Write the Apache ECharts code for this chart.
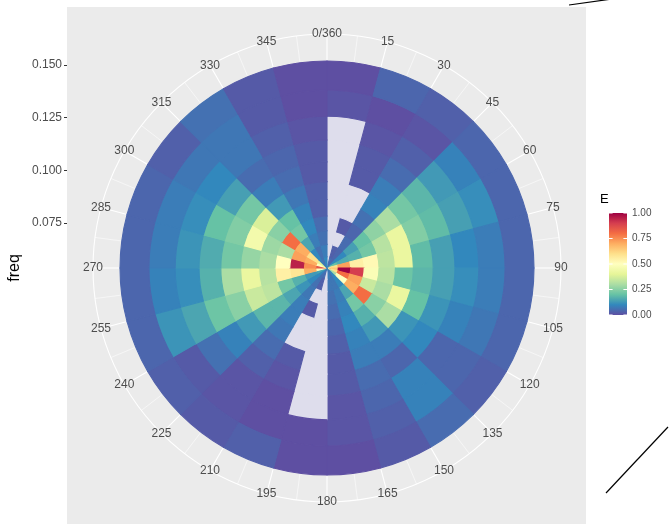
<!DOCTYPE html>
<html><head><meta charset="utf-8">
<script src="https://cdn.jsdelivr.net/npm/echarts@6/dist/echarts.min.js"></script>
<style>html,body{margin:0;padding:0;background:#fff}#c{width:671px;height:524px}</style>
</head><body><div id="c"></div>
<script>
// ---- data ----
const directions = [0,15,30,45,60,75,90,105,120,135,150,165,180,195,210,225,240,255,270,285,300,315,330,345];
const dirWidth = 15;
const freqs = [0.0562,0.0618,0.0680,0.0747,0.0821,0.0903,0.0992,0.1091,0.1199,0.1318,0.1449];
const angleTicks = [0,15,30,45,60,75,90,105,120,135,150,165,180,195,210,225,240,255,270,285,300,315,330,345];
const angleLabels = ['0/360','15','30','45','60','75','90','105','120','135','150','165','180','195','210','225','240','255','270','285','300','315','330','345'];
const freqTicks = [0.075,0.100,0.125,0.150];
const legendBreaks = [0,0.25,0.5,0.75,1];
// E per direction bin (rows) and frequency bin (columns, low -> high); null = no value
const energy = [
  [null,null,null,null,null,null,null,null,null,0.01,0.00],
  [0.05,0.03,null,0.02,null,null,0.02,0.02,0.01,0.00,0.04],
  [0.04,0.04,0.05,0.04,0.06,0.09,0.08,0.05,0.03,0.01,0.03],
  [0.10,0.10,0.14,0.20,0.26,0.30,0.22,0.18,0.13,0.09,0.04],
  [0.20,0.16,0.17,0.22,0.32,0.42,0.24,0.19,0.14,0.11,0.04],
  [0.60,0.72,0.55,0.52,0.33,0.42,0.19,0.14,0.10,0.08,0.04],
  [0.65,1.00,0.90,0.48,0.32,0.21,0.18,0.14,0.11,0.08,0.04],
  [0.60,0.80,0.72,0.35,0.30,0.42,0.20,0.12,0.09,0.07,0.04],
  [0.30,0.50,0.70,0.80,0.25,0.30,0.12,0.10,0.04,0.04,0.03],
  [0.10,0.10,0.15,0.22,0.17,0.13,0.08,0.04,0.09,0.09,0.05],
  [0.06,0.07,0.08,0.09,0.10,0.09,0.08,0.05,0.04,0.03,0.02],
  [0.08,0.07,0.06,0.05,0.04,0.03,0.02,0.02,0.01,0.01,0.00],
  [null,null,null,null,null,null,null,null,null,0.00,0.00],
  [0.05,0.03,null,0.02,null,null,0.02,0.01,0.00,0.00,0.03],
  [0.06,0.06,0.07,0.08,0.08,0.07,0.05,0.03,0.01,0.01,0.02],
  [0.10,0.10,0.12,0.15,0.18,0.18,0.13,0.09,0.06,0.02,0.03],
  [0.15,0.13,0.17,0.22,0.33,0.35,0.25,0.21,0.15,0.12,0.04],
  [0.50,0.70,0.58,0.55,0.32,0.42,0.30,0.17,0.11,0.09,0.04],
  [0.85,0.75,0.95,0.50,0.30,0.27,0.22,0.16,0.12,0.08,0.04],
  [0.50,0.70,0.72,0.30,0.28,0.45,0.24,0.20,0.11,0.08,0.04],
  [0.40,0.60,0.70,0.80,0.25,0.38,0.22,0.14,0.10,0.07,0.03],
  [0.08,0.10,0.15,0.22,0.20,0.13,0.08,0.05,0.07,0.07,0.06],
  [0.06,0.06,0.08,0.10,0.09,0.07,0.05,0.04,0.03,0.02,0.02],
  [0.10,0.08,0.06,0.05,0.03,0.03,0.02,0.02,0.01,0.00,0.00]
];

// ---- styling / layout ----
const PALETTE = ['#5E4FA2','#3288BD','#66C2A5','#ABDDA4','#E6F598','#FFFFBF','#FEE08B','#FDAE61','#F46D43','#D53E4F','#9E0142'];
const NA_COLOR = '#DEDDEC';
const FONT = '"Liberation Sans", Arial, sans-serif';
const CX = 327, CY = 268, DISC_R = 207, OUTER_R = 234;

// tile edges: geometric midpoints between frequency bin centres
const n = freqs.length;
const edges = [freqs[0] / Math.sqrt(freqs[1] / freqs[0])];
for (let i = 0; i < n - 1; i++) edges.push(Math.sqrt(freqs[i] * freqs[i + 1]));
edges.push(freqs[n - 1] * Math.sqrt(freqs[n - 1] / freqs[n - 2]));
const fLo = edges[0], fHi = edges[n];
const rMax = fLo + (fHi - fLo) * OUTER_R / DISC_R;

const tileData = [];
directions.forEach((d, di) => {
  freqs.forEach((f, ri) => {
    const e = energy[di][ri];
    tileData.push([f, d, e === null ? '-' : e, ri, di]);
  });
});

// theta grid lines: major at each labelled angle, minor half-way between
const gridData = [];
angleTicks.forEach(a => { gridData.push([a, 1]); gridData.push([a + dirWidth / 2, 0]); });

const chart = echarts.init(document.getElementById('c'), null, {renderer: 'canvas'});

function tileItem(params, api) {
  const ri = api.value(3), di = api.value(4);
  const cs = params.coordSys;
  const d0 = directions[di], d1 = d0 + dirWidth;
  const pIn = api.coord([edges[ri], d0]);
  const pOut = api.coord([edges[ri + 1], d0]);
  const pEnd = api.coord([edges[ri + 1], d1]);
  const r0 = Math.hypot(pIn[0] - cs.cx, pIn[1] - cs.cy);
  const r = Math.hypot(pOut[0] - cs.cx, pOut[1] - cs.cy);
  let a0 = Math.atan2(pOut[1] - cs.cy, pOut[0] - cs.cx);
  let a1 = Math.atan2(pEnd[1] - cs.cy, pEnd[0] - cs.cx);
  if (a1 <= a0) a1 += 2 * Math.PI;
  const e = api.value(2);
  const fill = (e === '-' || isNaN(e)) ? NA_COLOR : api.visual('color');
  return {
    type: 'sector',
    shape: {cx: cs.cx, cy: cs.cy, r0: r0, r: r, startAngle: a0, endAngle: a1, clockwise: true},
    style: {fill: fill, stroke: fill, lineWidth: 1.1, lineJoin: 'miter'}
  };
}

function gridItem(params, api) {
  const a = api.value(0), major = api.value(1);
  const p0 = api.coord([fHi, a]);
  const p1 = api.coord([rMax, a]);
  return {
    type: 'line',
    shape: {x1: p0[0], y1: p0[1], x2: p1[0], y2: p1[1]},
    style: {stroke: '#fff', lineWidth: major ? 1.1 : 0.55}
  };
}

function labelItem(params, api) {
  const p = api.coord([api.value(0), api.value(1)]);
  return {
    type: 'text',
    style: {text: angleLabels[api.value(2)], x: p[0], y: p[1], align: 'center', verticalAlign: 'middle',
            fill: '#4D4D4D', font: '12px ' + FONT}
  };
}

// legend graphic
const LEG_X = 609, LEG_TOP = 213, LEG_H = 102, LEG_W = 18;
const legendEls = [
  {type: 'text', left: 600, top: 193, style: {text: 'E', fill: '#000', font: '13px ' + FONT}},
  {type: 'rect', shape: {x: LEG_X, y: LEG_TOP, width: LEG_W, height: LEG_H},
   style: {fill: new echarts.graphic.LinearGradient(0, 1, 0, 0,
     PALETTE.map((c, i) => ({offset: i / (PALETTE.length - 1), color: c})))}}
];
legendBreaks.forEach(v => {
  const y = LEG_TOP + LEG_H - v * LEG_H;
  legendEls.push({type: 'line', shape: {x1: LEG_X, y1: y, x2: LEG_X + 3.6, y2: y}, style: {stroke: '#fff', lineWidth: 1}});
  legendEls.push({type: 'line', shape: {x1: LEG_X + LEG_W - 3.6, y1: y, x2: LEG_X + LEG_W, y2: y}, style: {stroke: '#fff', lineWidth: 1}});
  legendEls.push({type: 'text', x: LEG_X + LEG_W + 5, y: y,
    style: {text: v.toFixed(2), fill: '#4D4D4D', font: '10px ' + FONT, verticalAlign: 'middle', align: 'left'}});
});

const option = {
  backgroundColor: '#fff',
  animation: false,
  graphic: [
    {type: 'rect', z: -100, shape: {x: 67, y: 7, width: 519, height: 530}, style: {fill: '#EBEBEB'}},
    {type: 'text', z: 10, x: 15, y: CY, rotation: Math.PI / 2,
     style: {text: 'freq', fill: '#000', font: '16px ' + FONT, align: 'center', verticalAlign: 'middle'}},
    {type: 'line', z: 10, shape: {x1: 569, y1: 5, x2: 612, y2: -1}, style: {stroke: '#000', lineWidth: 1.2}},
    {type: 'line', z: 10, shape: {x1: 606, y1: 493, x2: 668, y2: 427}, style: {stroke: '#000', lineWidth: 1.2}},
    {type: 'group', z: 10, children: legendEls}
  ],
  polar: {center: [CX, CY], radius: [0, OUTER_R]},
  angleAxis: {
    type: 'value', min: 0, max: 360, interval: 15, startAngle: 90, clockwise: true,
    axisLine: {show: true, lineStyle: {color: '#fff', width: 1.1}},
    axisTick: {show: false}, axisLabel: {show: false},
    splitLine: {show: false}, minorSplitLine: {show: false}
  },
  radiusAxis: {
    type: 'value', min: fLo, max: rMax,
    axisLine: {show: false}, axisTick: {show: false}, axisLabel: {show: false}, splitLine: {show: false}
  },
  grid: {left: 67, top: CY - DISC_R, width: 519, height: DISC_R, show: false},
  xAxis: {type: 'value', show: false, min: 0, max: 1},
  yAxis: {
    type: 'value', min: fLo, max: fHi, position: 'left',
    axisLine: {show: false}, splitLine: {show: false},
    axisTick: {show: true, length: 3, lineStyle: {color: '#333'}, customValues: freqTicks},
    axisLabel: {show: true, customValues: freqTicks, formatter: v => v.toFixed(3), color: '#4D4D4D',
                fontSize: 12, fontFamily: FONT, margin: 5}
  },
  visualMap: {show: false, type: 'continuous', min: 0, max: 1, dimension: 2, seriesIndex: 0,
              inRange: {color: PALETTE}, outOfRange: {color: NA_COLOR}},
  series: [
    {type: 'custom', coordinateSystem: 'polar', renderItem: tileItem, data: tileData,
     dimensions: ['freq', 'dir', 'E', 'ri', 'di'], encode: {radius: 0, angle: 1}, z: 20, silent: true},
    {type: 'custom', coordinateSystem: 'polar', renderItem: gridItem, data: gridData,
     encode: {angle: 0}, z: 5, silent: true},
    {type: 'custom', coordinateSystem: 'polar', renderItem: labelItem,
     data: angleTicks.map((a, i) => [rMax, a, i]), encode: {radius: 0, angle: 1}, z: 30, silent: true}
  ]
};
chart.setOption(option);
</script></body></html>
